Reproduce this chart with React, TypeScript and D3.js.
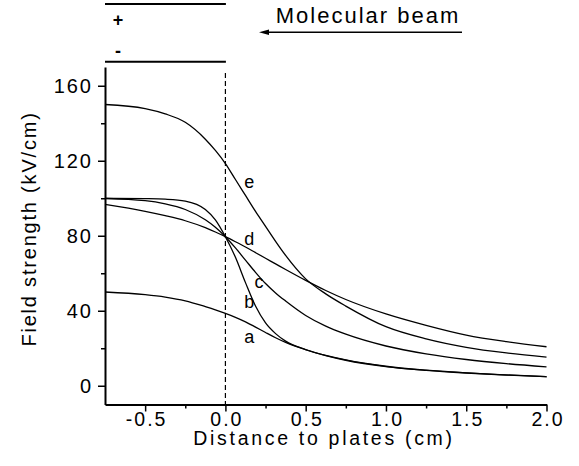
import * as d3 from "d3";
import { useEffect, useRef } from "react";

// distance to plates (cm), shared by all curves
const distance = [
  -0.75, -0.5, -0.375, -0.25, -0.125, -0.0625, 0, 0.0625, 0.125, 0.1875, 0.25,
  0.3125, 0.375, 0.5, 0.625, 0.75, 1.0, 1.25, 1.5, 1.75, 2.0,
];

// field strength (kV/cm)
const curveA = [50, 48.6, 47.3, 45.3, 42.2, 40.5, 38.6, 36.5, 34.1, 31.3, 28.4, 25.6, 23.1, 19.2, 16.2, 13.8, 10.4, 8.3, 6.9, 5.8, 4.8];
const curveB = [100, 99.8, 99.5, 98.5, 94, 88.5, 79.5, 68.5, 55, 42.5, 33.5, 27.8, 23.8, 19.3, 16.1, 13.6, 10.2, 8.2, 6.8, 5.7, 4.8];
const curveC = [99.8, 98.7, 97, 94, 88.5, 84.5, 79.5, 73.5, 67, 60.5, 54.5, 49.5, 45.2, 37.5, 31.8, 27.5, 21.2, 17, 14, 11.8, 10.1];
const curveD = [96.7, 93, 90.7, 88, 84.3, 82, 79.5, 76.8, 74, 71, 68, 65, 62, 56.2, 50.8, 46, 38.3, 32.2, 27, 23.5, 20.8];
const curveE = [150, 147.8, 145, 140.5, 131.5, 125.5, 118.5, 110, 101.5, 93, 85, 77, 69.5, 57, 49, 42.5, 31.5, 25, 20.5, 17.5, 15.3];

const curveNames = ["a", "b", "c", "d", "e"];
const curveValues = [curveA, curveB, curveC, curveD, curveE];
// label anchors in data units [x, y]
const labelPos = [
  [0.148, 25.9],
  [0.148, 44.6],
  [0.21, 55.3],
  [0.148, 78.2],
  [0.148, 108.8],
];

const xTicks = [-0.5, 0, 0.5, 1.0, 1.5, 2.0];
const xMinor = [-0.25, 0.25, 0.75, 1.25, 1.75];
const yTicks = [0, 40, 80, 120, 160];
const yMinor = [20, 60, 100, 140];

const FONT = "'Liberation Sans', Arial, Helvetica, sans-serif";

const App = () => {
  const svgRef = useRef<SVGSVGElement>(null);

  useEffect(() => {
    const svg = d3.select(svgRef.current);
    svg.selectAll("*").remove();

    const x = d3.scaleLinear().domain([-0.75, 2.0]).range([105, 546.5]);
    const y = d3.scaleLinear().domain([-10, 170]).range([404.5, 67]);

    const g = svg.append("g").attr("font-family", FONT);

    // minor ticks
    g.append("g")
      .attr("transform", `translate(0,${y(-10)})`)
      .call(d3.axisBottom(x).tickValues(xMinor).tickSize(4).tickFormat(() => ""))
      .call((a) => a.select(".domain").remove())
      .call((a) => a.selectAll("line").attr("stroke-width", 1.5));
    g.append("g")
      .attr("transform", `translate(${x(-0.75)},0)`)
      .call(d3.axisLeft(y).tickValues(yMinor).tickSize(4).tickFormat(() => ""))
      .call((a) => a.select(".domain").remove())
      .call((a) => a.selectAll("line").attr("stroke-width", 1.5));

    // major axes
    const xAxis = g.append("g")
      .attr("transform", `translate(0,${y(-10)})`)
      .call(d3.axisBottom(x).tickValues(xTicks).tickSize(7).tickSizeOuter(0).tickPadding(1));
    xAxis.select(".domain").attr("stroke-width", 2);
    xAxis.selectAll("line").attr("stroke-width", 1.5);
    xAxis.selectAll("text")
      .attr("font-size", 19.5)
      .attr("font-family", FONT)
      .attr("letter-spacing", 2)
      .attr("dx", 1)
      .attr("fill", "#000")
      .text((d: any) => (d < 0 ? "-" : "") + d3.format(".1f")(Math.abs(d)));

    const yAxis = g.append("g")
      .attr("transform", `translate(${x(-0.75)},0)`)
      .call(d3.axisLeft(y).tickValues(yTicks).tickSize(7).tickSizeOuter(0).tickPadding(5));
    yAxis.select(".domain").attr("stroke-width", 2);
    yAxis.selectAll("line").attr("stroke-width", 1.5);
    yAxis.selectAll("text")
      .attr("font-size", 20)
      .attr("font-family", FONT)
      .attr("letter-spacing", 2)
      .attr("fill", "#000");

    // axis titles
    g.append("text")
      .attr("x", 324)
      .attr("y", 444.5)
      .attr("text-anchor", "middle")
      .attr("font-size", 19.5)
      .attr("letter-spacing", 2.7)
      .text("Distance to plates (cm)");
    g.append("text")
      .attr("transform", `translate(36,229) rotate(-90)`)
      .attr("text-anchor", "middle")
      .attr("font-size", 20)
      .attr("letter-spacing", 1.8)
      .text("Field strength (kV/cm)");

    // plate edge
    g.append("line")
      .attr("x1", x(0)).attr("x2", x(0))
      .attr("y1", 73).attr("y2", y(-10))
      .attr("stroke", "#000")
      .attr("stroke-width", 1.2)
      .attr("stroke-dasharray", "5,3");

    // curves
    const line = d3.line<[number, number]>()
      .x((d) => x(d[0]))
      .y((d) => y(d[1]))
      .curve(d3.curveMonotoneX);

    curveValues.forEach((vals) => {
      g.append("path")
        .datum(distance.map((dx, i) => [dx, vals[i]] as [number, number]))
        .attr("fill", "none")
        .attr("stroke", "#000")
        .attr("stroke-width", 1.3)
        .attr("d", line);
    });

    // curve labels
    g.append("g")
      .selectAll("text")
      .data(curveNames)
      .join("text")
      .attr("x", (d, i) => x(labelPos[i][0]))
      .attr("y", (d, i) => y(labelPos[i][1]))
      .attr("dy", "0.35em")
      .attr("text-anchor", "middle")
      .attr("font-size", 18)
      .text((d) => d);

    // capacitor plates
    const plates = g.append("g");
    [4, 61.7].forEach((py) => {
      plates.append("line")
        .attr("x1", x(-0.75)).attr("x2", x(0) + 0.5)
        .attr("y1", py).attr("y2", py)
        .attr("stroke", "#000")
        .attr("stroke-width", 2);
    });
    plates.append("text")
      .attr("x", 118).attr("y", 26)
      .attr("text-anchor", "middle")
      .attr("font-size", 18)
      .attr("font-weight", "bold")
      .text("+");
    plates.append("text")
      .attr("x", 118).attr("y", 57)
      .attr("text-anchor", "middle")
      .attr("font-size", 18)
      .attr("font-weight", "bold")
      .text("-");

    // beam direction
    g.append("line")
      .attr("x1", 266).attr("x2", 462)
      .attr("y1", 32.3).attr("y2", 32.3)
      .attr("stroke", "#000")
      .attr("stroke-width", 1.5);
    g.append("path")
      .attr("d", "M259,32.3 L269,29.5 L269,35.1 Z")
      .attr("fill", "#000");
    g.append("text")
      .attr("x", 368).attr("y", 23)
      .attr("text-anchor", "middle")
      .attr("font-size", 22)
      .attr("letter-spacing", 2)
      .text("Molecular beam");
  }, []);

  return (
    <svg
      ref={svgRef}
      width={579}
      height={466}
      style={{ position: "absolute", left: 0, top: 0, background: "#fff" }}
    ></svg>
  );
};

export default App;
